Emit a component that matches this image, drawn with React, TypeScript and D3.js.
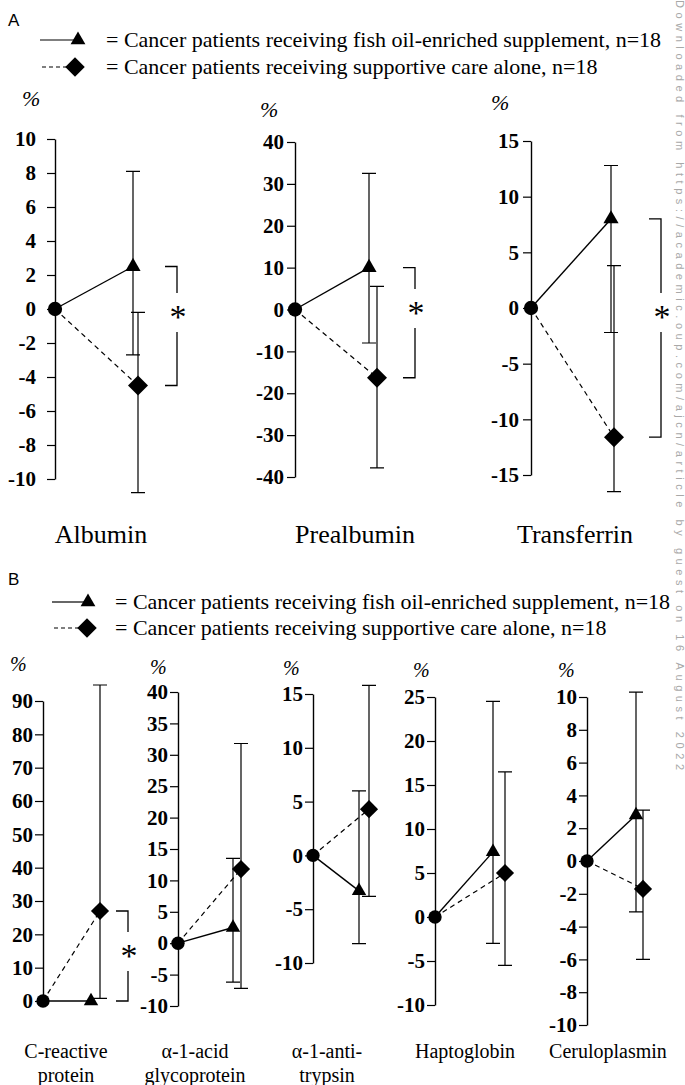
import { useEffect, useRef } from "react";
import * as d3 from "d3";

// Panel A - nutritional proteins, % change from baseline
const proteinsA = ["Albumin", "Prealbumin", "Transferrin"];
const fishOilA = [2.5, 10, 8.0];
const fishOilLowA = [-2.7, -8, -2.2];
const fishOilHighA = [8.1, 32.5, 12.8];
const careA = [-4.5, -16.3, -11.6];
const careLowA = [-10.8, -37.8, -16.5];
const careHighA = [-0.2, 5.5, 3.8];
const domainsA = [[-10, 10], [-40, 40], [-15, 15]];
const ticksA = [
  [-10, -8, -6, -4, -2, 0, 2, 4, 6, 8, 10],
  [-40, -30, -20, -10, 0, 10, 20, 30, 40],
  [-15, -10, -5, 0, 5, 10, 15],
];
const signifA = [true, true, true];

// Panel B - acute phase proteins
const proteinsB = [
  ["C-reactive", "protein"],
  ["α-1-acid", "glycoprotein"],
  ["α-1-anti-", "trypsin"],
  ["Haptoglobin"],
  ["Ceruloplasmin"],
];
const fishOilB = [0, 2.5, -3.3, 7.4, 2.8];
const fishOilLowB = [null, -6.2, -8.2, -3, -3.1];
const fishOilHighB = [null, 13.5, 6.0, 24.5, 10.3];
const careB = [27, 11.8, 4.3, 5, -1.7];
const careLowB = [0.8, -7.2, -3.8, -5.5, -6.0];
const careHighB = [94.8, 31.8, 15.8, 16.5, 3.1];
const domainsB = [[0, 90], [-10, 40], [-10, 15], [-10, 25], [-10, 10]];
const ticksB = [
  [0, 10, 20, 30, 40, 50, 60, 70, 80, 90],
  [-10, -5, 0, 5, 10, 15, 20, 25, 30, 35, 40],
  [-10, -5, 0, 5, 10, 15],
  [-10, -5, 0, 5, 10, 15, 20, 25],
  [-10, -8, -6, -4, -2, 0, 2, 4, 6, 8, 10],
];
const signifB = [true, false, false, false, false];

const legendLabels = [
  "= Cancer patients receiving fish oil-enriched supplement, n=18",
  "= Cancer patients receiving supportive care alone, n=18",
];

const serif = "'Liberation Serif', 'Times New Roman', Times, serif";
const sans = "'Liberation Sans', Arial, Helvetica, sans-serif";

// pixel layout of every small chart
const layoutA = [
  { axisX: 55, y0: 479, y1: 139, postX: 135, dTri: -2, dDia: 3, pad: 11, bracketX: 177, starY: 311, pctX: 22, pctY: 106, labelX: 101 },
  { axisX: 295, y0: 477, y1: 142, postX: 373, dTri: -4, dDia: 4, pad: 3, bracketX: 415, starY: 307, pctX: 260, pctY: 117, labelX: 355 },
  { axisX: 531, y0: 475, y1: 141, postX: 612, dTri: -1, dDia: 2, pad: 4, bracketX: 661, starY: 311, pctX: 491, pctY: 110, labelX: 575 },
];
const layoutB = [
  { axisX: 43, y0: 1001, y1: 701, postX: 96, dTri: -5, dDia: 4, pad: 2, bracketX: 128, starY: 950, pctX: 10, pctY: 671, labelX: 66 },
  { axisX: 178, y0: 1006, y1: 692, postX: 237, dTri: -4, dDia: 4, pad: 2, bracketX: 0, starY: 0, pctX: 150, pctY: 674, labelX: 195 },
  { axisX: 313, y0: 963, y1: 694, postX: 364, dTri: -5, dDia: 5, pad: 2, bracketX: 0, starY: 0, pctX: 283, pctY: 675, labelX: 327 },
  { axisX: 435, y0: 1005, y1: 697, postX: 499, dTri: -6, dDia: 6, pad: 2, bracketX: 0, starY: 0, pctX: 413, pctY: 677, labelX: 465 },
  { axisX: 587, y0: 1025, y1: 697, postX: 640, dTri: -4, dDia: 3, pad: 2, bracketX: 0, starY: 0, pctX: 558, pctY: 677, labelX: 608 },
];

const triangle = (s: number) => d3.symbol(d3.symbolTriangle, s)();
const square = (s: number) => d3.symbol(d3.symbolSquare, s)();
const circle = (s: number) => d3.symbol(d3.symbolCircle, s)();

function errorBar(x: number, yLo: number, yHi: number, cap: number) {
  const p = d3.path();
  p.moveTo(x, yLo);
  p.lineTo(x, yHi);
  p.moveTo(x - cap, yHi);
  p.lineTo(x + cap, yHi);
  p.moveTo(x - cap, yLo);
  p.lineTo(x + cap, yLo);
  return p.toString();
}

function MiniChart(props: any) {
  const { lay, domain, ticks, fish, fishLo, fishHi, care, careLo, careHi, sig, names, tickSize, nameSize, nameY, pctSize, mk } = props;
  const axisRef = useRef<SVGGElement>(null);

  const y = d3.scaleLinear().domain(domain).range([lay.y0, lay.y1]);
  const x = d3.scalePoint().domain(["start", "end"]).range([lay.axisX, lay.postX]);

  useEffect(() => {
    const g = d3.select(axisRef.current);
    g.call(
      d3
        .axisLeft(y)
        .tickValues(ticks)
        .tickSize(8)
        .tickSizeOuter(0)
        .tickPadding(lay.pad)
        .tickFormat((d: any) => String(d))
    );
    g.select(".domain").attr("stroke-width", 1.4);
    g.selectAll(".tick line").attr("stroke-width", 1.2);
    g.selectAll(".tick text")
      .attr("font-family", serif)
      .attr("font-weight", "bold")
      .attr("font-size", tickSize)
      .attr("fill", "#000");
  });

  const x0 = x("start")!;
  const xT = x("end")! + lay.dTri;
  const xD = x("end")! + lay.dDia;
  const y0 = y(0);
  const yT = y(fish);
  const yD = y(care);

  let bracket = null;
  if (sig) {
    const top = Math.min(yT, yD);
    const bot = Math.max(yT, yD);
    const bx = lay.bracketX;
    const p = d3.path();
    p.moveTo(bx - 12, top);
    p.lineTo(bx, top);
    p.lineTo(bx, lay.starY - 18);
    p.moveTo(bx, lay.starY + 21);
    p.lineTo(bx, bot);
    p.lineTo(bx - 12, bot);
    bracket = (
      <g>
        <path d={p.toString()} fill="none" stroke="#000" strokeWidth={1.3} />
        <text x={bx + 1} y={lay.starY + 17} fontFamily={serif} fontSize={34} textAnchor="middle">
          *
        </text>
      </g>
    );
  }

  return (
    <g>
      <text x={lay.pctX} y={lay.pctY} fontFamily={serif} fontStyle="italic" fontSize={pctSize}>
        %
      </text>
      <g ref={axisRef} transform={`translate(${lay.axisX},0)`} />
      {fishLo !== null && (
        <path d={errorBar(xT, y(fishLo), y(fishHi), 7)} fill="none" stroke="#000" strokeWidth={1.2} />
      )}
      <path d={errorBar(xD, y(careLo), y(careHi), 7)} fill="none" stroke="#000" strokeWidth={1.2} />
      <line x1={x0} y1={y0} x2={xT} y2={yT} stroke="#000" strokeWidth={1.4} />
      <line x1={x0} y1={y0} x2={xD} y2={yD} stroke="#000" strokeWidth={1.2} strokeDasharray="5,4" />
      <path d={circle(mk.circle)} transform={`translate(${x0},${y0})`} fill="#000" />
      <path d={triangle(mk.tri)} transform={`translate(${xT},${yT})`} fill="#000" />
      <path d={square(mk.dia)} transform={`translate(${xD},${yD}) rotate(45)`} fill="#000" />
      {bracket}
      {names.map((n: string, i: number) => (
        <text key={n} x={lay.labelX} y={nameY + i * 24} fontFamily={serif} fontSize={nameSize} textAnchor="middle">
          {n}
        </text>
      ))}
    </g>
  );
}

function Legend({ y1, y2, lineX, triX, diaX, textX }: any) {
  return (
    <g>
      <line x1={lineX} y1={y1} x2={triX - 4} y2={y1} stroke="#000" strokeWidth={1.2} />
      <path d={triangle(95)} transform={`translate(${triX},${y1})`} fill="#000" />
      <text x={textX} y={y1 + 7} fontFamily={serif} fontSize={22}>
        {legendLabels[0]}
      </text>
      <line x1={lineX + 2} y1={y2} x2={diaX - 6} y2={y2} stroke="#000" strokeWidth={1.2} strokeDasharray="4,3" />
      <path d={square(190)} transform={`translate(${diaX},${y2}) rotate(45)`} fill="#000" />
      <text x={textX} y={y2 + 7} fontFamily={serif} fontSize={22}>
        {legendLabels[1]}
      </text>
    </g>
  );
}

const App = () => {
  useEffect(() => {
    document.body.style.margin = "0";
  }, []);

  const width = 685;
  const height = 1085;
  const mkA = { circle: 160, tri: 100, dia: 200 };
  const mkB = { circle: 140, tri: 90, dia: 165 };

  return (
    <svg width={width} height={height} viewBox={`0 0 ${width} ${height}`} style={{ display: "block", background: "#fff" }}>
      <rect width={width} height={height} fill="#fff" />
      <text x={8} y={26} fontFamily={sans} fontSize={17}>
        A
      </text>
      <Legend y1={40} y2={67} lineX={40} triX={78} diaX={75} textX={106} />
      {proteinsA.map((name, i) => (
        <MiniChart
          key={name}
          lay={layoutA[i]}
          domain={domainsA[i]}
          ticks={ticksA[i]}
          fish={fishOilA[i]}
          fishLo={fishOilLowA[i]}
          fishHi={fishOilHighA[i]}
          care={careA[i]}
          careLo={careLowA[i]}
          careHi={careHighA[i]}
          sig={signifA[i]}
          names={[name]}
          tickSize={21}
          nameSize={26}
          nameY={543}
          pctSize={22}
          mk={mkA}
        />
      ))}

      <text x={8} y={585} fontFamily={sans} fontSize={17}>
        B
      </text>
      <Legend y1={602} y2={628} lineX={52} triX={88} diaX={87} textX={115} />
      {proteinsB.map((names, i) => (
        <MiniChart
          key={names[0]}
          lay={layoutB[i]}
          domain={domainsB[i]}
          ticks={ticksB[i]}
          fish={fishOilB[i]}
          fishLo={fishOilLowB[i]}
          fishHi={fishOilHighB[i]}
          care={careB[i]}
          careLo={careLowB[i]}
          careHi={careHighB[i]}
          sig={signifB[i]}
          names={names}
          tickSize={21}
          nameSize={20}
          nameY={1058}
          pctSize={20}
          mk={mkB}
        />
      ))}

      <text
        transform="translate(676,0) rotate(90)"
        fontFamily={sans}
        fontSize={11}
        fill="#a8a8a8"
        textLength={770}
      >
        Downloaded from https://academic.oup.com/ajcn/article by guest on 16 August 2022
      </text>
    </svg>
  );
};

export default App;
